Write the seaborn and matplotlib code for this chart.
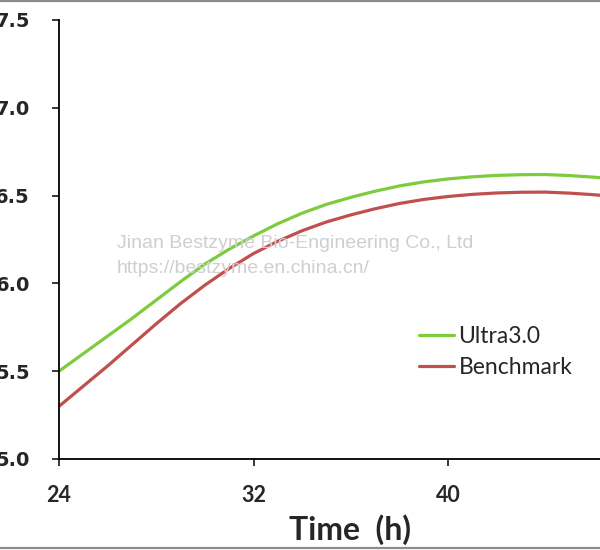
import seaborn as sns
import matplotlib.pyplot as plt
import pandas as pd
from matplotlib.lines import Line2D

hours = list(range(24, 49))
ultra = [5.50, 5.60, 5.70, 5.80, 5.905, 6.01, 6.11, 6.195, 6.27, 6.34, 6.40, 6.45, 6.49,
         6.525, 6.555, 6.578, 6.595, 6.607, 6.615, 6.619, 6.62, 6.614, 6.605, 6.593, 6.58]
bench = [5.30, 5.415, 5.53, 5.65, 5.77, 5.885, 5.99, 6.085, 6.17, 6.24, 6.30, 6.35, 6.39,
         6.425, 6.455, 6.478, 6.495, 6.507, 6.515, 6.519, 6.52, 6.514, 6.505, 6.493, 6.48]
series = ["Ultra3.0", "Benchmark"]
colors = ["#7fcb3e", "#c0504d"]

df = pd.concat([
    pd.DataFrame({"Time": hours, "pH": ultra, "Series": series[0]}),
    pd.DataFrame({"Time": hours, "pH": bench, "Series": series[1]}),
])

sns.set_style("ticks")
plt.rcParams["font.family"] = ["DejaVu Sans"]

fig = plt.figure(figsize=(6, 5.5), dpi=100)
ax = fig.add_axes([59 / 600, 91 / 550, 583.5 / 600, 439 / 550])

sns.lineplot(data=df, x="Time", y="pH", hue="Series", hue_order=series,
             palette=dict(zip(series, colors)), linewidth=2.3, ax=ax)

ax.set_xlim(24, 48)
ax.set_ylim(5.0, 7.5)
ax.set_xticks([24, 32, 40])
ax.set_yticks([5.0, 5.5, 6.0, 6.5, 7.0, 7.5])
ax.set_yticklabels([f"{v:.1f}" for v in ax.get_yticks()])
for s in ["top", "right"]:
    ax.spines[s].set_visible(False)
for s in ["left", "bottom"]:
    ax.spines[s].set_linewidth(1.3)
    ax.spines[s].set_color("black")

ax.tick_params(axis="y", length=5, width=1.3, pad=16, labelsize=14)
ax.tick_params(axis="x", length=5, width=1.3, pad=14, labelsize=15.5)
for lab in ax.get_yticklabels():
    lab.set_fontweight("bold")
for lab in ax.get_xticklabels():
    lab.set_fontweight("bold")
    lab.set_family("Lato")

ax.set_ylabel("")
ax.set_xlabel("Time  (h)", fontsize=23, fontweight="bold", family="Lato")
ax.xaxis.set_label_coords((350 - 59) / 583.5, -(530 - 459) / 439, transform=ax.transAxes)
ax.xaxis.label.set_va("center")

ax.legend(loc="center left", bbox_to_anchor=(408 / 600, 1 - 352 / 550),
          bbox_transform=fig.transFigure, frameon=False,
          prop={"family": "Lato", "size": 16.5}, handlelength=1.5,
          handletextpad=0.2, labelspacing=0.45, borderpad=0)

fig.text(117 / 600, 1 - 244 / 550, "Jinan Bestzyme Bio-Engineering Co., Ltd",
         color="#cfcfcf", fontsize=14, family="Liberation Sans", va="center")
fig.text(117 / 600, 1 - 269 / 550, "https://bestzyme.en.china.cn/",
         color="#cfcfcf", fontsize=14, family="Liberation Sans", va="center")

for yy in [1 - 1 / 550, 1 - 548 / 550]:
    fig.add_artist(Line2D([0, 1], [yy, yy], transform=fig.transFigure,
                          color="#8c8c8c", linewidth=1.6))

fig.savefig("out.png", dpi=100)
